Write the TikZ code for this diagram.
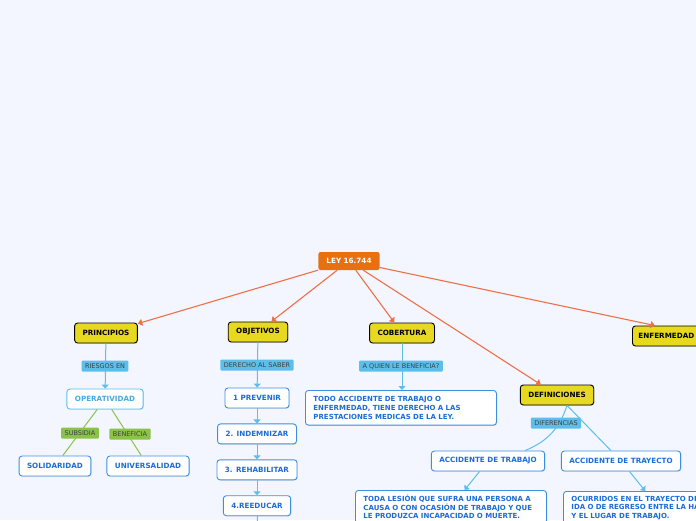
\documentclass[tikz,border=0pt]{standalone}
\usepackage{fontspec}
\setmainfont{DejaVu Sans}
\usetikzlibrary{arrows.meta, positioning, calc, shadows}
\definecolor{map-bg}{HTML}{F3F6FE}
\definecolor{map-orange}{HTML}{E8700E}
\definecolor{map-line}{HTML}{EE7048}
\definecolor{map-yellow}{HTML}{E6D91F}
\definecolor{map-sky}{HTML}{5CBFEB}
\definecolor{map-light}{HTML}{45A9E2}
\definecolor{map-blue}{HTML}{3D8FE3}
\definecolor{map-text}{HTML}{1C6CD6}
\definecolor{map-green}{HTML}{8BC34A}

\begin{document}
\begin{tikzpicture}[
    x=1pt, y=-1pt,
    root/.style={fill=map-orange, text=white, font=\bfseries\fontsize{7.2}{8}\selectfont, rounded corners=2pt, minimum height=18pt, inner xsep=8pt},
    topic/.style={draw=black, line width=0.9pt, fill=map-yellow, rounded corners=3pt, font=\bfseries\fontsize{7.2}{8}\selectfont, minimum height=20pt, inner xsep=8pt, drop shadow={opacity=0.25, shadow xshift=0.8pt, shadow yshift=-0.8pt}},
    item/.style={draw=map-blue, line width=0.9pt, fill=white, text=map-text, rounded corners=3pt, font=\bfseries\fontsize{7.2}{8}\selectfont, minimum height=20pt, inner xsep=8pt, drop shadow={opacity=0.2, shadow xshift=0.8pt, shadow yshift=-0.8pt}},
    note/.style={item, text width=175pt, align=left, font=\bfseries\fontsize{7}{8.7}\selectfont, inner ysep=6pt},
    tag/.style={fill=map-sky, text=black!75, font=\fontsize{6.5}{7}\selectfont, minimum height=11pt, inner xsep=3.5pt, inner ysep=1pt, rounded corners=1pt},
    greentag/.style={tag, fill=map-green},
    link/.style={-{Triangle[width=7pt,length=4.5pt]}, map-line, line width=1.1pt},
    flow/.style={-{Triangle[width=7pt,length=4pt]}, map-sky, line width=1pt},
    plain/.style={map-sky, line width=1pt},
    branch/.style={map-green, line width=1pt}
]
    \useasboundingbox (0,0) rectangle (696,520);
    \clip (0,0) rectangle (696,520);
    \fill [map-bg] (0,0) rectangle (696,520);

    \node (ley) [root] at (349,261) {LEY 16.744};
    \node (princ) [topic] at (106,333) {PRINCIPIOS};
    \node (obj) [topic] at (258,332) {OBJETIVOS};
    \node (cob) [topic] at (402,333) {COBERTURA};
    \node (defi) [topic] at (557,395) {DEFINICIONES};
    \node (enf) [topic, anchor=west, inner xsep=6pt] at (632,336) {ENFERMEDAD};

    \node (oper) [item, draw=map-sky, text=map-light] at (105,399) {OPERATIVIDAD};
    \node (soli) [item] at (55,466) {SOLIDARIDAD};
    \node (univ) [item] at (148,466) {UNIVERSALIDAD};

    \node (prev) [item] at (257,398) {1 PREVENIR};
    \node (indem) [item, below=15pt of prev] {2. INDEMNIZAR};
    \node (rehab) [item, below=15pt of indem] {3. REHABILITAR};
    \node (reedu) [item, below=15pt of rehab] {4.REEDUCAR};
    \coordinate (next) at (258,540);

    \node (todo) [note, anchor=north west] at (305,390) {TODO ACCIDENTE DE TRABAJO O\\ENFERMEDAD, TIENE DERECHO A LAS\\PRESTACIONES MEDICAS DE LA LEY.};
    \node (acct) [item] at (488,461) {ACCIDENTE DE TRABAJO};
    \node (acctr) [item] at (621,461) {ACCIDENTE DE TRAYECTO};
    \node (lesion) [note, inner ysep=4.5pt, anchor=north west] at (355,490) {TODA LESIÓN QUE SUFRA UNA PERSONA A\\CAUSA O CON OCASIÓN DE TRABAJO Y QUE\\LE PRODUZCA INCAPACIDAD O MUERTE.};
    \node (ocurr) [note, inner ysep=4.5pt, anchor=north west] at (563,491) {OCURRIDOS EN EL TRAYECTO DE\\IDA O DE REGRESO ENTRE LA HABITACIÓN\\Y EL LUGAR DE TRABAJO.};

    \draw [link] (ley) -- (princ);
    \draw [link] (ley) -- (obj);
    \draw [link] (ley) -- (cob);
    \draw [link] (ley) -- (defi);
    \draw [link] (ley) -- ($(enf.north west)+(23,0)$);

    \draw [flow] (princ) -- (oper);
    \draw [branch] (oper) -- (soli);
    \draw [branch] (oper) -- (univ);

    \draw [flow] (obj) -- (prev);
    \draw [flow] (prev) -- (indem);
    \draw [flow] (indem) -- (rehab);
    \draw [flow] (rehab) -- (reedu);
    \draw [flow] (reedu) -- (next);

    \draw [flow] (cob) -- (todo.north -| cob);
    \draw [plain] ([xshift=10pt]defi.south) to [bend left=25] ([xshift=37pt]acct.north);
    \draw [plain] (defi) -- (acctr);
    \draw [flow] (acct) -- (lesion);
    \draw [flow] (acctr) -- (ocurr);

    \node (riesgos) [tag] at (105,366) {RIESGOS EN};
    \node (subs) [greentag] at (80,433) {SUBSIDIA};
    \node (benef) [greentag] at (130,434) {BENEFICIA};
    \node (saber) [tag] at (257,365) {DERECHO AL SABER};
    \node (quien) [tag] at (401,366) {A QUIEN LE BENEFICIA?};
    \node (dif) [tag] at (556,423) {DIFERENCIAS};
\end{tikzpicture}
\end{document}
